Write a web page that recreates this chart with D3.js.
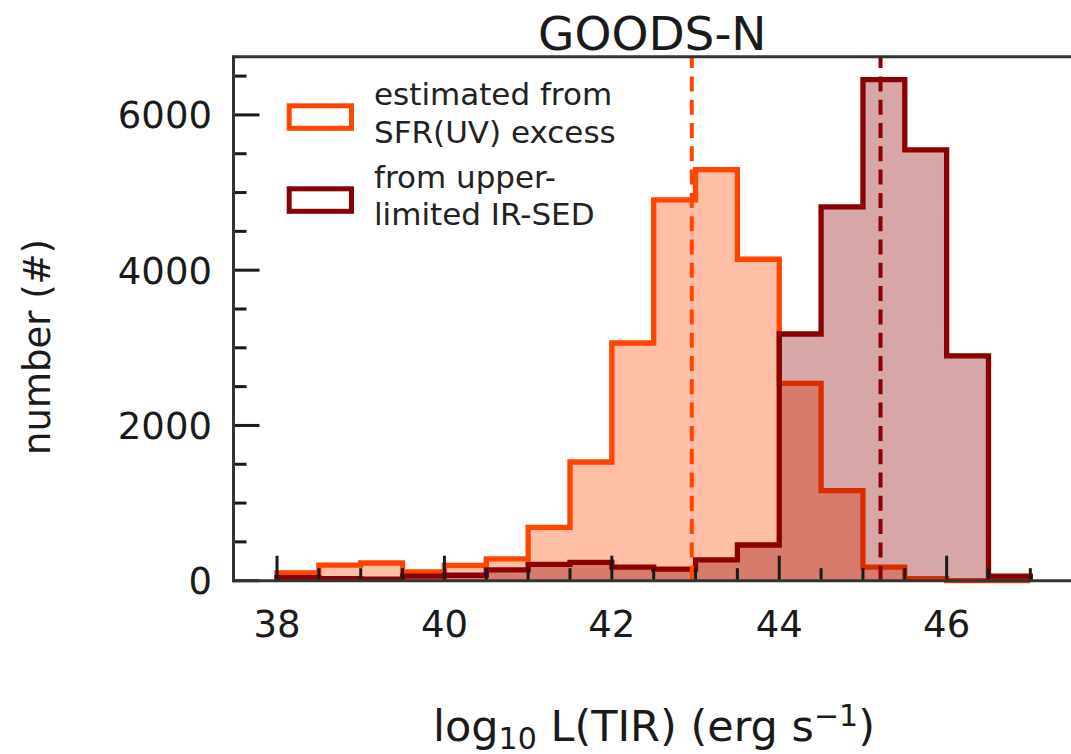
<!DOCTYPE html>
<html>
<head>
<meta charset="utf-8">
<script src="https://cdn.jsdelivr.net/npm/d3@7/dist/d3.min.js"></script>
<style>
  html, body { margin: 0; padding: 0; background: #ffffff; }
  svg { display: block; font-family: "DejaVu Sans", sans-serif; }
</style>
</head>
<body>
<svg id="chart" width="1071" height="754"></svg>
<script>
// ---- data ----
const binEdges = [38, 38.5, 39, 39.5, 40, 40.5, 41, 41.5, 42, 42.5, 43, 43.5, 44, 44.5, 45, 45.5, 46, 46.5, 47];
const uvExcessCounts = [100, 200, 228, 112, 198, 280, 688, 1529, 3062, 4905, 5295, 4141, 2543, 1160, 176, 26, 0, 0];
const irSedCounts   = [40, 25, 20, 60, 70, 140, 210, 236, 175, 150, 267, 460, 3178, 4815, 6455, 5549, 2895, 60];
const medians = [42.955, 45.21];
const seriesNames = ["estimated from\nSFR(UV) excess", "from upper-\nlimited IR-SED"];
const seriesColors = ["#ff4500", "#8b0000"];
const xMajorTicks = [38, 40, 42, 44, 46];
const yMajorTicks = [0, 2000, 4000, 6000];
const titleText = "GOODS-N";
const yLabelText = "number (#)";

// ---- layout ----
const svg = d3.select("#chart");
const x = d3.scaleLinear().domain([37.48, 47.5]).range([233.5, 1072.2]);
const y = d3.scaleLinear().domain([0, 6750]).range([580.7, 56.7]);
const [x0, x1] = x.range();
const [yb, yt] = y.range();

function stepPoints(counts) {
  const pts = [[binEdges[0], 0]];
  counts.forEach((v, i) => { pts.push([binEdges[i], v]); pts.push([binEdges[i + 1], v]); });
  pts.push([binEdges[binEdges.length - 1], 0]);
  return pts;
}
const line = d3.line().x(d => x(d[0])).y(d => y(d[1]));

const plot = svg.append("g");
const series = [uvExcessCounts, irSedCounts];
series.forEach((counts, k) => {
  const pts = stepPoints(counts);
  plot.append("path").attr("d", line(pts) + "Z")
    .attr("fill", seriesColors[k]).attr("fill-opacity", 0.35).attr("stroke", "none");
  plot.append("path").attr("d", line(pts))
    .attr("fill", "none").attr("stroke", seriesColors[k]).attr("stroke-width", 5.3)
    .attr("stroke-linejoin", "miter");
});

// median dashed lines
medians.forEach((m, k) => {
  plot.append("line").attr("x1", x(m)).attr("x2", x(m)).attr("y1", yb).attr("y2", yt)
    .attr("stroke", seriesColors[k]).attr("stroke-width", 4)
    .attr("stroke-dasharray", "15,8.3");
});

// ---- ticks ----
const tickColor = "#1a1a1a";
const xMinor = d3.range(38, 47.01, 0.5).filter(v => !xMajorTicks.includes(v));
const yMinor = d3.range(0, 6501, 500).filter(v => !yMajorTicks.includes(v));
const tg = svg.append("g").attr("stroke", tickColor).attr("stroke-width", 3);
xMajorTicks.forEach(v => tg.append("line").attr("x1", x(v)).attr("x2", x(v)).attr("y1", yb).attr("y2", yb - 25));
xMinor.forEach(v => tg.append("line").attr("x1", x(v)).attr("x2", x(v)).attr("y1", yb).attr("y2", yb - 12.5));
yMajorTicks.forEach(v => tg.append("line").attr("x1", x0).attr("x2", x0 + 26).attr("y1", y(v)).attr("y2", y(v)));
yMinor.forEach(v => tg.append("line").attr("x1", x0).attr("x2", x0 + 13).attr("y1", y(v)).attr("y2", y(v)));

// spines (left, bottom, top)
const sg = svg.append("g").attr("stroke", "#333").attr("stroke-width", 3).attr("fill", "none");
sg.append("line").attr("x1", x0).attr("x2", x0).attr("y1", yb + 1.5).attr("y2", yt - 1.5);
sg.append("line").attr("x1", x0).attr("x2", 1071).attr("y1", yb).attr("y2", yb);
sg.append("line").attr("x1", x0).attr("x2", 1071).attr("y1", yt).attr("y2", yt);

// tick labels
const tfs = 37;
svg.append("g").selectAll("text").data(xMajorTicks).join("text")
  .attr("x", d => x(d)).attr("y", 636.7).attr("text-anchor", "middle")
  .attr("font-size", tfs).attr("fill", tickColor).text(d => d);
svg.append("g").selectAll("text").data(yMajorTicks).join("text")
  .attr("x", 212).attr("y", d => y(d) + 0.364 * tfs).attr("text-anchor", "end")
  .attr("font-size", tfs).attr("fill", tickColor).text(d => d);

// title
svg.append("text").attr("x", (x0 + 1071) / 2).attr("y", 50).attr("text-anchor", "middle")
  .attr("font-size", 47).attr("fill", tickColor).text(titleText);

// x label with sub/superscript
const xl = svg.append("text").attr("x", 654).attr("y", 740.5).attr("text-anchor", "middle")
  .attr("font-size", 43).attr("fill", tickColor);
xl.append("tspan").text("log");
xl.append("tspan").attr("font-size", 30).attr("dy", 8).text("10");
xl.append("tspan").attr("dy", -8).text(" L(TIR) (erg s");
xl.append("tspan").attr("font-size", 30).attr("dy", -15).text("\u22121");
xl.append("tspan").attr("dy", 15).text(")");

// y label
svg.append("text").attr("transform", "translate(50,347) rotate(-90)")
  .attr("text-anchor", "middle").attr("font-size", 37).attr("fill", tickColor).text(yLabelText);

// legend
const legendRows = [{ top: 105.8, baselines: [105, 142.7] }, { top: 188.8, baselines: [188.3, 225] }];
legendRows.forEach((r, k) => {
  svg.append("rect").attr("x", 289.2).attr("y", r.top).attr("width", 62.3).attr("height", 22.5)
    .attr("fill", "none").attr("stroke", seriesColors[k]).attr("stroke-width", 5);
  seriesNames[k].split("\n").forEach((t, j) => {
    svg.append("text").attr("x", 374).attr("y", r.baselines[j]).attr("font-size", 31)
      .attr("fill", "#222").text(t);
  });
});
</script>
</body>
</html>
